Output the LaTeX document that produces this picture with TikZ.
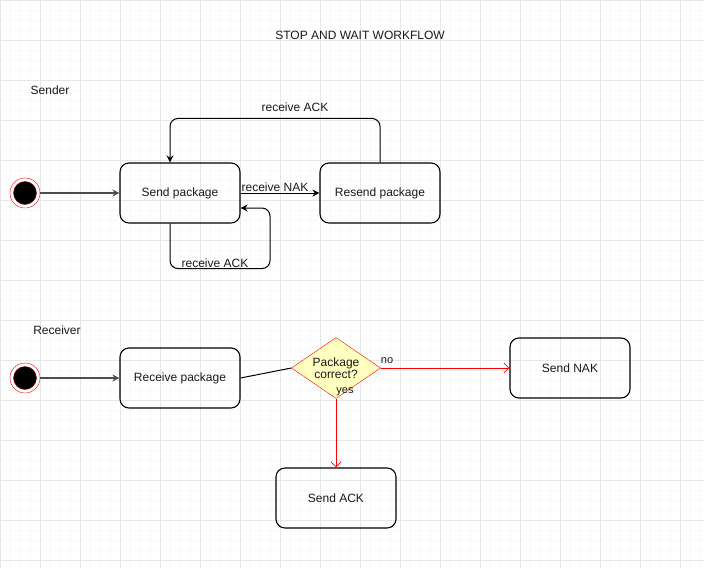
\documentclass[tikz,border=0pt]{standalone}
\usepackage{fontspec}
\setmainfont{Liberation Sans}
\usetikzlibrary{arrows.meta,shapes.geometric}
\definecolor{gridminor}{HTML}{F8F8F8}
\definecolor{gridmajor}{HTML}{E6E6E6}
\definecolor{decfill}{HTML}{FFFFC0}
\definecolor{txt}{HTML}{1A1A1A}

\begin{document}
\begin{tikzpicture}[x=1pt,y=-1pt,
  state/.style={draw,rounded corners=9pt,line width=1.1pt,minimum width=120pt,minimum height=60pt,inner sep=0pt,text=txt,font=\fontsize{12}{14}\selectfont},
  startdot/.style={circle,draw=red,fill=white,minimum size=30pt,inner sep=0pt,
    path picture={\fill[black,draw=red!55!black] (path picture bounding box.center) circle (11.5pt);}},
  decision/.style={diamond,draw=red,fill=decfill,minimum width=89pt,minimum height=61pt,inner sep=0pt,
    label={[align=center,text=txt,font=\fontsize{12}{12}\selectfont]center:#1}},
  arr/.style={-{Stealth[length=7pt,width=7pt]},line width=1pt},
  startarr/.style={-{Stealth[length=7pt,width=7pt]},line width=1.3pt,black!70},
  redarr/.style={red,-{Straight Barb[length=5pt,width=10pt]},line width=0.8pt},
  lbl/.style={text=txt,font=\fontsize{12}{14}\selectfont,inner sep=0pt},
  small/.style={text=txt,font=\fontsize{11}{12}\selectfont,inner sep=0pt}]
\useasboundingbox (0,0) rectangle (704,568);
\fill[white] (0,0) rectangle (704,568);
%grid
\foreach \x in {0,10,...,700}
\draw[gridminor] (\x,0) -- (\x,568);
\foreach \y in {0,10,...,560}
\draw[gridminor] (0,\y) -- (704,\y);
\foreach \x in {0,40,...,680}
\draw[gridmajor] (\x,0) -- (\x,568);
\foreach \y in {0,40,...,560}
\draw[gridmajor] (0,\y) -- (704,\y);

\node[lbl] (title) at (360,35) {STOP AND WAIT WORKFLOW};

%sender
\node[lbl] (sender) at (50,90) {Sender};
\node[startdot] (start1) at (25,193) {};
\node[state] (sendpkg) at (180,193) {Send package};
\node[state] (resendpkg) at (380,193) {Resend package};
\draw[startarr] (start1) -- (sendpkg);
\draw[arr] (sendpkg) -- (resendpkg);
\node[lbl] (nak) at (275,187) {receive NAK};
\draw[arr,rounded corners=8pt] (resendpkg.north) -- ++(0,-44) -| ([xshift=-10pt]sendpkg.north);
\node[lbl] (ack1) at (295,107) {receive ACK};
\draw[arr,rounded corners=8pt] ([xshift=-10pt]sendpkg.south) -- ++(0,45) -- ++(100,0) |- ([yshift=-15pt]sendpkg.east);
\node[lbl] (ack2) at (215,263) {receive ACK};

%receiver
\node[lbl] (receiver) at (57,330) {Receiver};
\node[startdot] (start2) at (25,378) {};
\node[state] (recvpkg) at (180,378) {Receive package};
\node[decision={Package\\correct?}] (check) at (336,368) {};
\node[state] (sendnak) at (570,368) {Send NAK};
\node[state] (sendack) at (336,498) {Send ACK};
\draw[startarr] (start2) -- (recvpkg);
\draw[line width=1pt] (recvpkg.east) -- (check.west);
\draw[redarr] (check.east) -- (sendnak.west);
\node[small] (no) at (387,361) {no};
\draw[redarr] (check.south) -- (sendack.north);
\node[small] (yes) at (345,392) {yes};
\end{tikzpicture}
\end{document}
